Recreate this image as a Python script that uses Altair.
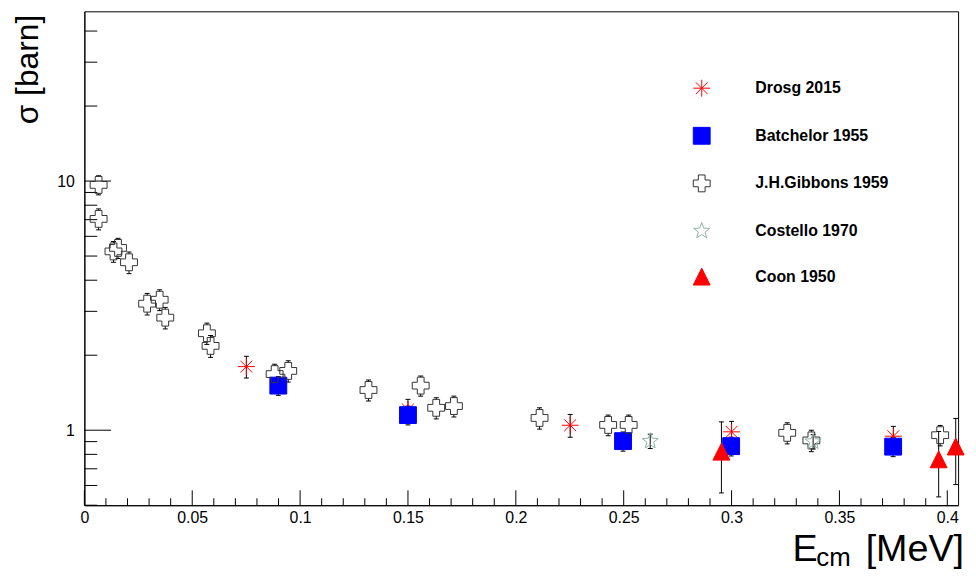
import altair as alt
import pandas as pd

# ---------------- data ----------------
series_names = ["Drosg 2015", "Batchelor 1955", "J.H.Gibbons 1959", "Costello 1970", "Coon 1950"]

drosg_x = [0.0751, 0.150, 0.2252, 0.300, 0.375]
drosg_y = [1.80, 1.21, 1.047, 0.985, 0.946]
drosg_err = [0.18, 0.12, 0.11, 0.10, 0.09]

batchelor_x = [0.0899, 0.150, 0.2497, 0.2998, 0.3749]
batchelor_y = [1.51, 1.15, 0.904, 0.863, 0.859]
batchelor_err = [0.13, 0.10, 0.08, 0.075, 0.076]

gibbons_x = [0.0066, 0.0066, 0.0135, 0.0156, 0.0207, 0.0291, 0.0349, 0.0375, 0.0568, 0.0585,
             0.0882, 0.0945, 0.1317, 0.1559, 0.1631, 0.1713, 0.2110, 0.2428, 0.2523, 0.3258,
             0.3370, 0.3967]
gibbons_y = [9.65, 7.05, 5.22, 5.39, 4.72, 3.22, 3.34, 2.83, 2.45, 2.18,
             1.68, 1.73, 1.45, 1.51, 1.23, 1.25, 1.12, 1.05, 1.05, 0.976,
             0.91, 0.955]
gibbons_err = [0.85, 0.68, 0.50, 0.50, 0.47, 0.32, 0.32, 0.28, 0.24, 0.22,
               0.16, 0.17, 0.14, 0.14, 0.12, 0.12, 0.11, 0.10, 0.10, 0.095,
               0.09, 0.09]

costello_x = [0.2623, 0.3378]
costello_y = [0.904, 0.900]
costello_err = [0.06, 0.06]

coon_x = [0.2953, 0.3960, 0.4039]
coon_y = [0.82, 0.764, 0.86]
coon_err = [0.26, 0.224, 0.255]

# axis tick positions / labels
x_major_ticks = [0, 0.05, 0.1, 0.15, 0.2, 0.25, 0.3, 0.35, 0.4]
x_minor_ticks = [0.01, 0.02, 0.03, 0.04, 0.06, 0.07, 0.08, 0.09, 0.11, 0.12, 0.13, 0.14,
                 0.16, 0.17, 0.18, 0.19, 0.21, 0.22, 0.23, 0.24, 0.26, 0.27, 0.28, 0.29,
                 0.31, 0.32, 0.33, 0.34, 0.36, 0.37, 0.38, 0.39]
y_major_ticks = [1, 10]
y_minor_ticks = [0.5, 0.6, 0.7, 0.8, 0.9, 2, 3, 4, 5, 6, 7, 8, 9, 20, 30, 40]

# ---------------- styles ----------------
asterisk = "M-1,0L1,0M0,-1L0,1M-0.7,-0.7L0.7,0.7M-0.7,0.7L0.7,-0.7"
square = "M-1,-1L1,-1L1,1L-1,1Z"
cross = ("M-0.4,-1L0.4,-1L0.4,-0.4L1,-0.4L1,0.4L0.4,0.4L0.4,1L-0.4,1L-0.4,0.4"
         "L-1,0.4L-1,-0.4L-0.4,-0.4Z")
star = ("M0,-1L0.247,-0.34L0.951,-0.309L0.399,0.13L0.588,0.809L0,0.42L-0.588,0.809"
        "L-0.399,0.13L-0.951,-0.309L-0.247,-0.34Z")
triangle = "M0,-1L1,1L-1,1Z"

shapes = [asterisk, square, cross, star, triangle]
strokes = ["#ff0000", "#0000ff", "#333333", "#8fb0a8", "#ff0000"]
fills = ["transparent", "#0000ff", "transparent", "transparent", "#ff0000"]

FONT = "Liberation Sans"
W, H = 881, 498

rows = []
for name, xs, ys, es in [
    (series_names[0], drosg_x, drosg_y, drosg_err),
    (series_names[1], batchelor_x, batchelor_y, batchelor_err),
    (series_names[2], gibbons_x, gibbons_y, gibbons_err),
    (series_names[3], costello_x, costello_y, costello_err),
    (series_names[4], coon_x, coon_y, coon_err),
]:
    for x, y, e in zip(xs, ys, es):
        rows.append({"series": name, "x": x, "y": y, "ylo": y - e, "yhi": y + e,
                     "gap": name == series_names[2]})
df = pd.DataFrame(rows)

xscale = alt.Scale(domain=[0, 0.405], nice=False, zero=False)
yscale = alt.Scale(type="log", domain=[0.5, 48], nice=False)

x_axis = alt.Axis(values=x_major_ticks, format="~g", ticks=False, grid=False,
                  labelFont=FONT, labelFontSize=16, labelColor="black",
                  domainColor="black", labelPadding=4, labelFlush=False,
                  labelOverlap=False, title=None)
y_axis = alt.Axis(values=y_major_ticks, format="~g", ticks=False, grid=False,
                  labelFont=FONT, labelFontSize=16, labelColor="black",
                  domainColor="black", labelPadding=10, labelFlush=False,
                  labelOverlap=False, title="σ [barn]", titleFont=FONT,
                  titleFontSize=32, titleFontWeight="normal", titleColor="black",
                  titleAngle=270, titleX=-47, titleY=3, titleAlign="right",
                  titleBaseline="alphabetic")


def X(field):
    return alt.X(field, scale=xscale, axis=x_axis)


def Y(field):
    return alt.Y(field, scale=yscale, axis=y_axis)


base = alt.Chart(df)

# inward axis ticks
ymaj = alt.Chart(pd.DataFrame({"v": y_major_ticks})).mark_rule(color="black", strokeWidth=1).encode(
    y=Y("v:Q"), x=alt.value(0), x2=alt.value(27))
ymin = alt.Chart(pd.DataFrame({"v": y_minor_ticks})).mark_rule(color="black", strokeWidth=1).encode(
    y=Y("v:Q"), x=alt.value(0), x2=alt.value(13))
xmaj = alt.Chart(pd.DataFrame({"v": x_major_ticks})).mark_rule(color="black", strokeWidth=1).encode(
    x=X("v:Q"), y=alt.value(H), y2=alt.value(H - 15))
xmin = alt.Chart(pd.DataFrame({"v": x_minor_ticks})).mark_rule(color="black", strokeWidth=1).encode(
    x=X("v:Q"), y=alt.value(H), y2=alt.value(H - 7))

# error bars
bars_full = base.transform_filter("!datum.gap").mark_rule(color="black", strokeWidth=1).encode(
    x=X("x:Q"), y=Y("ylo:Q"), y2="yhi:Q")
bars_up = base.transform_filter("datum.gap").mark_rule(color="black", strokeWidth=1, y2Offset=-8.5).encode(
    x=X("x:Q"), y=Y("yhi:Q"), y2="y:Q")
bars_dn = base.transform_filter("datum.gap").mark_rule(color="black", strokeWidth=1, y2Offset=8.5).encode(
    x=X("x:Q"), y=Y("ylo:Q"), y2="y:Q")
cap_hi = base.mark_point(shape="M-1,0L1,0", size=25, stroke="black", strokeWidth=1,
                         filled=False, opacity=1).encode(x=X("x:Q"), y=Y("yhi:Q"))
cap_lo = base.mark_point(shape="M-1,0L1,0", size=25, stroke="black", strokeWidth=1,
                         filled=False, opacity=1).encode(x=X("x:Q"), y=Y("ylo:Q"))

legend = alt.Legend(
    orient="none", legendX=613.5, legendY=68.5, title=None,
    labelFont=FONT, labelFontSize=16, labelFontWeight="bold", labelColor="black",
    symbolSize=289, symbolStrokeWidth=1, labelOffset=45, rowPadding=26, padding=0,
)

points = base.mark_point(size=289, strokeWidth=1, opacity=1).encode(
    x=X("x:Q"),
    y=Y("y:Q"),
    shape=alt.Shape("series:N", scale=alt.Scale(domain=series_names, range=shapes), legend=legend),
    stroke=alt.Stroke("series:N", scale=alt.Scale(domain=series_names, range=strokes), legend=legend),
    fill=alt.Fill("series:N", scale=alt.Scale(domain=series_names, range=fills), legend=legend),
)

# x-axis title with subscript
t_E = alt.Chart(pd.DataFrame({"t": ["E"]})).mark_text(
    font=FONT, fontSize=38, align="left", baseline="alphabetic", color="black").encode(
    text="t:N", x=alt.value(714), y=alt.value(554))
t_cm = alt.Chart(pd.DataFrame({"t": ["cm"]})).mark_text(
    font=FONT, fontSize=26, align="left", baseline="alphabetic", color="black").encode(
    text="t:N", x=alt.value(738), y=alt.value(559))
t_unit = alt.Chart(pd.DataFrame({"t": ["[MeV]"]})).mark_text(
    font=FONT, fontSize=38, align="right", baseline="alphabetic", color="black").encode(
    text="t:N", x=alt.value(W + 6), y=alt.value(554))

chart = alt.layer(
    ymaj, ymin, xmaj, xmin, bars_full, bars_up, bars_dn, cap_hi, cap_lo, points,
    t_E, t_cm, t_unit,
).properties(
    width=W, height=H,
    autosize=alt.AutoSizeParams(type="none"),
    padding={"left": 77, "top": 1, "right": 10, "bottom": 66},
    background="white",
).configure_view(stroke="black", strokeWidth=1)

chart.save("out.html", embed_options={"renderer": "svg", "actions": False})
